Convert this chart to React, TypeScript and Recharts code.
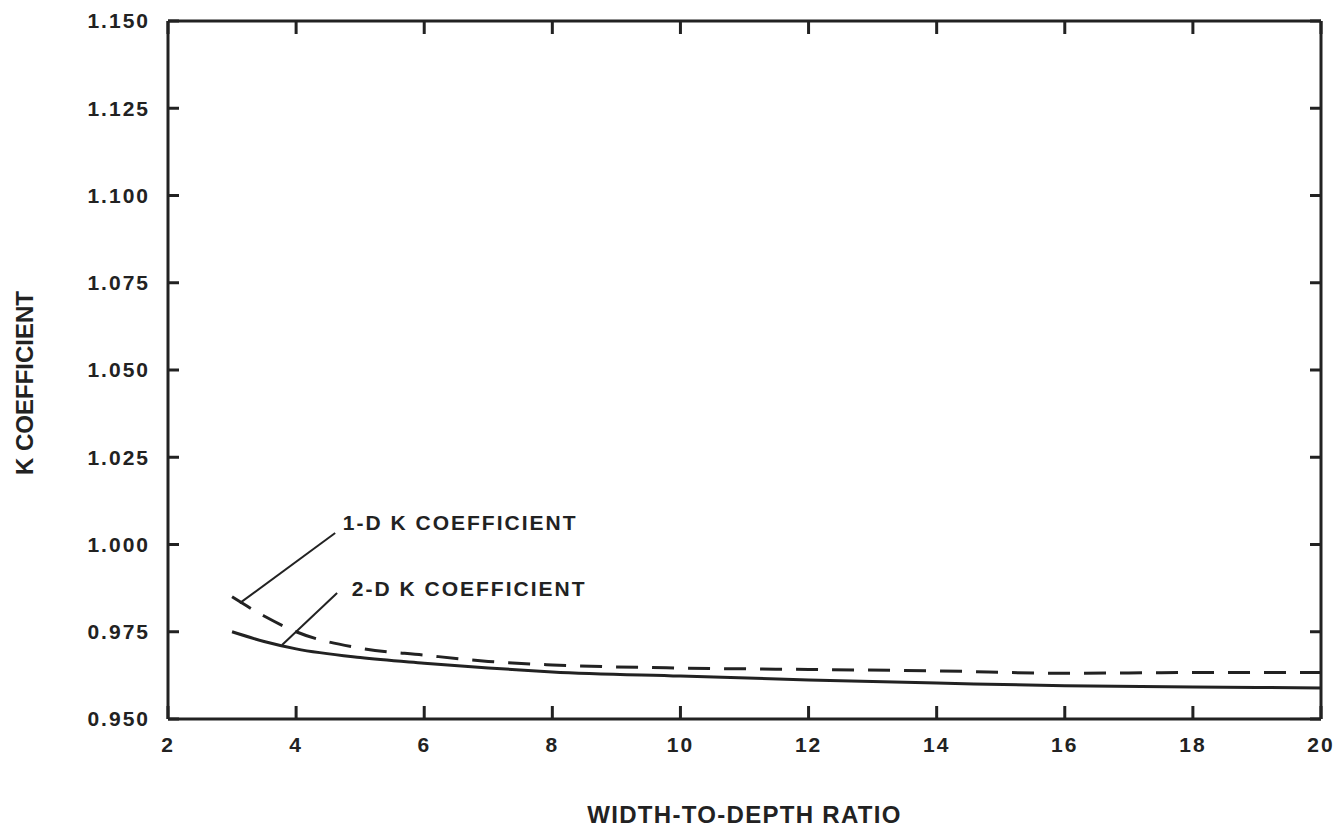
import { Label, Line, LineChart, ReferenceDot, ReferenceLine, XAxis, YAxis } from "recharts";

const ratio = [3, 3.5, 4, 5, 6, 7, 8, 10, 12, 14, 16, 18, 20];
const k1d = [0.985, 0.9795, 0.975, 0.9703, 0.9683, 0.9665, 0.9655, 0.9646, 0.9642, 0.9638, 0.9631, 0.9633, 0.9633];
const k2d = [0.975, 0.9722, 0.9701, 0.9676, 0.966, 0.9646, 0.9635, 0.9623, 0.9612, 0.9603, 0.9595, 0.9592, 0.9589];

const xTicks = [2, 4, 6, 8, 10, 12, 14, 16, 18, 20];
const yTicks = [0.95, 0.975, 1.0, 1.025, 1.05, 1.075, 1.1, 1.125, 1.15];

const labels1d = "1-D K COEFFICIENT";
const labels2d = "2-D K COEFFICIENT";

const data = ratio.map((x, i) => ({ x, oneD: k1d[i], twoD: k2d[i] }));

const ink = "#222";
const font = "'Liberation Sans', Arial, sans-serif";
const tickStyle = { fill: ink, fontSize: 21, fontWeight: "bold", fontFamily: font, letterSpacing: 2 };
const lineStyle = { stroke: ink, strokeWidth: 3 };
const noText = { fill: "none", fontSize: 1 };
const blank = () => "";

function YTitle(props: any) {
  const vb = props.viewBox || { x: 0, y: 21, width: 168, height: 698 };
  const cx = 24;
  const cy = vb.y + vb.height / 2 + 13;
  return (
    <text
      x={cx}
      y={cy}
      transform={`rotate(-90, ${cx}, ${cy})`}
      textAnchor="middle"
      dominantBaseline="central"
      fill={ink}
      fontSize={24}
      fontWeight="bold"
      fontFamily={font}
    >
      K COEFFICIENT
    </text>
  );
}

const noteLabel = (value: string) => ({
  value,
  position: "right" as const,
  offset: 0,
  fill: ink,
  fontSize: 21,
  fontWeight: "bold",
  fontFamily: font,
  letterSpacing: 2,
});

export default function App() {
  return (
    <div style={{ position: "absolute", left: 0, top: 0, background: "#fff" }}>
      <LineChart width={1337} height={829} data={data} margin={{ top: 21, right: 16, left: 0, bottom: 0 }}>
        {/* label axes */}
        <XAxis
          dataKey="x"
          type="number"
          domain={[2, 20]}
          ticks={xTicks}
          height={110}
          axisLine={false}
          tickLine={false}
          tickSize={0}
          tickMargin={18}
          tick={tickStyle}
          interval={0}
        >
          <Label
            value="WIDTH-TO-DEPTH RATIO"
            position="insideBottom"
            offset={6}
            fill={ink}
            fontSize={24}
            fontWeight="bold"
            fontFamily={font}
            letterSpacing={1.3}
          />
        </XAxis>
        <YAxis
          type="number"
          domain={[0.95, 1.15]}
          ticks={yTicks}
          width={168}
          axisLine={false}
          tickLine={false}
          tickSize={0}
          tickMargin={18}
          tick={tickStyle}
          tickFormatter={(v: number) => v.toFixed(3)}
          interval={0}
        >
          <Label content={YTitle} />
        </YAxis>
        {/* frame with inward ticks */}
        <XAxis
          xAxisId="bottomFrame"
          dataKey="x"
          orientation="bottom"
          mirror
          type="number"
          domain={[2, 20]}
          allowDataOverflow
          ticks={xTicks}
          height={1}
          axisLine={lineStyle}
          tickLine={lineStyle}
          tickSize={13}
          tick={noText}
          tickFormatter={blank}
          interval={0}
        />
        <XAxis
          xAxisId="topFrame"
          dataKey="x"
          orientation="top"
          mirror
          type="number"
          domain={[2, 20]}
          allowDataOverflow
          ticks={xTicks}
          height={1}
          axisLine={lineStyle}
          tickLine={lineStyle}
          tickSize={13}
          tick={noText}
          tickFormatter={blank}
          interval={0}
        />
        <YAxis
          yAxisId="leftFrame"
          dataKey="twoD"
          orientation="left"
          mirror
          type="number"
          domain={[0.95, 1.15]}
          allowDataOverflow
          ticks={yTicks}
          width={1}
          axisLine={lineStyle}
          tickLine={lineStyle}
          tickSize={11}
          tick={noText}
          tickFormatter={blank}
          interval={0}
        />
        <YAxis
          yAxisId="rightFrame"
          dataKey="twoD"
          orientation="right"
          mirror
          type="number"
          domain={[0.95, 1.15]}
          allowDataOverflow
          ticks={yTicks}
          width={1}
          axisLine={lineStyle}
          tickLine={lineStyle}
          tickSize={11}
          tick={noText}
          tickFormatter={blank}
          interval={0}
        />
        <Line
          type="monotone"
          dataKey="oneD"
          stroke={ink}
          strokeWidth={3}
          strokeDasharray="22 14"
          dot={false}
          isAnimationActive={false}
        />
        <Line type="monotone" dataKey="twoD" stroke={ink} strokeWidth={3} dot={false} isAnimationActive={false} />
        <ReferenceLine
          segment={[
            { x: 4.61, y: 1.0033 },
            { x: 3.12, y: 0.9832 },
          ]}
          stroke={ink}
          strokeWidth={2}
        />
        <ReferenceLine
          segment={[
            { x: 4.64, y: 0.9861 },
            { x: 3.78, y: 0.9712 },
          ]}
          stroke={ink}
          strokeWidth={2}
        />
        <ReferenceDot x={4.73} y={1.0062} r={0} stroke="none" fill="none" label={noteLabel(labels1d)} />
        <ReferenceDot x={4.87} y={0.9875} r={0} stroke="none" fill="none" label={noteLabel(labels2d)} />
      </LineChart>
    </div>
  );
}
